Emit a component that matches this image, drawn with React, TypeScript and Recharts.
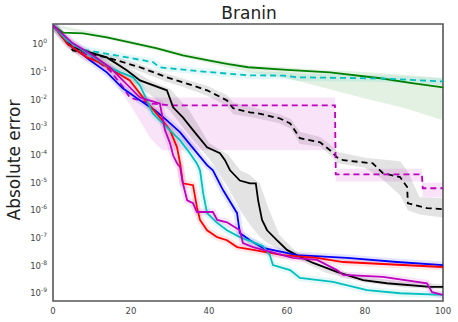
import { ComposedChart, Line, Area, XAxis, YAxis, ReferenceArea, Label } from "recharts";

// [iteration, absolute error]
const greenLine = [[0, 4.9], [2.6, 2.7], [7.7, 2.5], [13.8, 1.8], [19.7, 1.2], [26.7, 0.72], [33.3, 0.4], [39.5, 0.27], [44.6, 0.2], [50, 0.15], [60, 0.12], [71, 0.098], [84, 0.06], [92, 0.04], [100, 0.028]];
const cyanDashed = [[0, 4.9], [3, 1.5], [6.2, 0.72], [12, 0.51], [19, 0.34], [25.6, 0.23], [27.4, 0.148], [40, 0.1], [50.5, 0.076], [59, 0.075], [62.6, 0.065], [84, 0.059], [100, 0.046]];
const blackDashed = [[0, 4.9], [5.1, 0.61], [13.8, 0.34], [22.3, 0.15], [29.2, 0.065], [33.3, 0.043], [39.5, 0.022], [44.6, 0.0095], [46.2, 0.0049], [50.5, 0.0035], [52.3, 0.0033], [58.2, 0.0021], [60.8, 0.0014], [63.3, 0.00041], [68.5, 0.00029], [71, 0.00015], [72.8, 8.3e-5], [74.4, 6.5e-5], [82, 5e-5], [84.6, 2.2e-5], [89, 1.6e-5], [90.8, 7e-6], [91, 1.8e-6], [95.9, 1.2e-6], [100, 1.1e-6]];
const magentaDashed = [[0, 4.9], [5, 0.78], [10, 0.34], [14.6, 0.115], [18, 0.028], [19.7, 0.012], [24.9, 0.0074], [30, 0.0063], [72.3, 0.0063], [72.5, 2e-5], [94.6, 2e-5], [94.8, 6.3e-6], [100, 6.3e-6]];
const blackSolid = [[0, 4.9], [5.1, 0.78], [13.8, 0.34], [19, 0.115], [22.3, 0.05], [29.2, 0.022], [30.8, 0.0053], [33.3, 0.0023], [35.9, 0.0008], [39.5, 0.00019], [42.8, 0.000116], [44.1, 6.5e-5], [45.4, 2.8e-5], [47.9, 1.2e-5], [50.5, 9.5e-6], [52, 9.5e-6], [52.6, 2.3e-6], [53.6, 4.5e-7], [54.9, 1.9e-7], [57.4, 8.3e-8], [60, 3.7e-8], [63.3, 2.1e-8], [66.7, 1.25e-8], [72.8, 5.9e-9], [79.5, 3e-9], [85.6, 2.3e-9], [96.7, 1.7e-9], [100, 1.7e-9]];
const blueLine = [[0, 4.9], [4.4, 0.92], [6.2, 0.61], [9.5, 0.27], [13.8, 0.098], [17.9, 0.026], [22.3, 0.0095], [26.2, 0.0041], [29.2, 0.0018], [32.6, 0.00066], [35.9, 0.000177], [39.5, 4.3e-5], [41, 2.8e-5], [43.6, 5.4e-6], [47.2, 7.9e-7], [47.9, 1.5e-7], [50.5, 8.3e-8], [53.8, 4.4e-8], [62.6, 2.4e-8], [75.4, 1.9e-8], [88.2, 1.35e-8], [100, 1.05e-8]];
const redLine = [[0, 4.9], [3.6, 1.1], [8.7, 0.34], [12.1, 0.22], [15.4, 0.115], [19.7, 0.05], [23.1, 0.012], [27.4, 0.0023], [30, 0.0008], [31.8, 0.00019], [32.6, 5e-5], [33.3, 9.5e-6], [35.9, 8.1e-6], [36.9, 1.3e-6], [37.7, 4.5e-7], [39.5, 1.9e-7], [42.1, 1.07e-7], [44.6, 8.3e-8], [47.2, 4.7e-8], [51.3, 3.7e-8], [59, 2.4e-8], [67.7, 1.9e-8], [74.4, 1.35e-8], [100, 8.9e-9]];
const cyanLine = [[0, 4.9], [3.6, 1.4], [6.9, 0.72], [13.8, 0.17], [17.2, 0.098], [20.5, 0.065], [22.3, 0.033], [24.1, 0.0095], [25.6, 0.0032], [28.2, 0.0014], [30.8, 0.00061], [32.6, 0.00034], [35.1, 0.000116], [36.9, 5e-5], [37.7, 2.8e-5], [38.5, 4.2e-6], [39.5, 7.9e-7], [42.1, 3.5e-7], [44.6, 1.9e-7], [47.9, 1.07e-7], [51.3, 7.1e-8], [53.8, 5.1e-8], [55.6, 2.4e-8], [56.4, 1.05e-8], [60.8, 6.9e-9], [63.3, 3.6e-9], [71.8, 2.6e-9], [80.5, 1.3e-9], [89, 1.0e-9], [100, 8.7e-10]];
const magentaLine = [[0, 4.9], [5.1, 1.1], [10.3, 0.4], [14.6, 0.148], [17.9, 0.05], [22.3, 0.012], [25.6, 0.0087], [27.4, 0.0074], [28.7, 0.0008], [30, 0.00027], [30.8, 9.8e-5], [31.8, 5e-5], [32.6, 3.6e-5], [33.3, 9.5e-6], [34.4, 2.3e-6], [35.9, 1.8e-6], [36.9, 8.7e-7], [41, 8.7e-7], [42.1, 4.5e-7], [44.6, 3.7e-7], [47.9, 1.9e-7], [48.7, 6.6e-8], [51.3, 4.7e-8], [61.5, 1.9e-8], [67.7, 1.6e-8], [72.8, 6.9e-9], [74.4, 4.6e-9], [84.6, 3.9e-9], [95.9, 2.3e-9], [97.2, 1.1e-9], [100, 8.7e-10]];

// [iteration, low, high]
const greenBand = [[0, 4.3, 5.5], [10, 2.1, 2.8], [20, 1.0, 1.4], [30, 0.45, 0.65], [40, 0.21, 0.32], [50, 0.1, 0.18], [60, 0.06, 0.15], [70, 0.026, 0.12], [80, 0.011, 0.1], [90, 0.005, 0.08], [100, 0.0018, 0.06]];
const blackDashedBand = [[0, 4.5, 5.5], [5, 0.5, 0.75], [14, 0.26, 0.45], [22, 0.11, 0.2], [29, 0.045, 0.09], [33, 0.03, 0.06], [39.5, 0.014, 0.032], [44.6, 0.006, 0.015], [46.2, 0.003, 0.008], [52, 0.0022, 0.005], [58, 0.0014, 0.003], [61, 0.0009, 0.002], [63.3, 0.00025, 0.0007], [68.5, 0.0002, 0.00045], [71, 0.0001, 0.00025], [73, 5e-5, 0.00013], [80, 3.5e-5, 8e-5], [84, 1.5e-5, 7e-5], [89, 3.5e-6, 6e-5], [91, 1e-6, 2.5e-5], [94, 7e-7, 3e-6], [100, 5.5e-7, 2.8e-6]];
const magentaDashedBand = [[0, 4.5, 5.5], [10, 0.25, 0.45], [15, 0.07, 0.16], [18, 0.015, 0.04], [20, 0.006, 0.02], [22, 0.002, 0.015], [25, 0.0004, 0.012], [28, 0.00015, 0.012], [72.3, 0.00015, 0.012], [72.5, 1.1e-5, 3.2e-5], [94.6, 1.1e-5, 3.2e-5], [94.8, 3e-6, 1e-5], [100, 3e-6, 1e-5]];
const blackSolidBand = [[0, 4.5, 5.5], [5, 0.6, 1.0], [10, 0.25, 0.5], [15, 0.12, 0.28], [20, 0.05, 0.13], [25, 0.015, 0.05], [30, 0.004, 0.025], [35, 0.0005, 0.004], [40, 7.7e-5, 0.00027], [45, 6.3e-6, 0.0001], [48, 1e-6, 2.8e-5], [50.5, 3e-7, 1.9e-5], [53, 1.1e-7, 9.5e-6], [55, 6.6e-8, 1.5e-6], [58, 3.7e-8, 1.3e-7], [62, 2e-8, 3.5e-8], [66, 1e-8, 1.6e-8], [70, 5.5e-9, 9e-9], [80, 2.4e-9, 3.8e-9], [90, 1.6e-9, 2.6e-9], [100, 1.4e-9, 2.1e-9]];

const xTicks = [0, 20, 40, 60, 80, 100];
const yTicks = [1e-9, 1e-8, 1e-7, 1e-6, 1e-5, 1e-4, 1e-3, 1e-2, 1e-1, 1e0];
const Y_MIN = 5.25e-10;
const Y_MAX = 5.5;

const FONT = "DejaVu Sans";

const pts = (arr: number[][]) => arr.map(([x, v]) => ({ x, v }));
const band = (arr: number[][]) => arr.map(([x, lo, hi]) => ({ x, r: [lo, hi] }));

const YTick = ({ x, y, payload }: any) => {
  const e = Math.round(Math.log10(payload.value));
  return (
    <text x={x} y={y} dy={3} textAnchor="end" fontSize={8.5} fill="#444" fontFamily={FONT}>
      10<tspan dy={-4} fontSize={6}>{e}</tspan>
    </text>
  );
};

const Titles = () => (
  <g fontFamily={FONT}>
    <text x={249} y={19} textAnchor="middle" fontSize={17} fill="#222">Branin</text>
    <text x={20} y={160} transform="rotate(-90 20 160)" textAnchor="middle" fontSize={17} fill="#222">Absolute error</text>
  </g>
);

const series = [
  { data: greenLine, color: "#008000", dash: undefined, halo: false },
  { data: cyanDashed, color: "#00bfbf", dash: "6 4", halo: true },
  { data: blackDashed, color: "#000000", dash: "6 4", halo: false },
  { data: magentaDashed, color: "#bf00bf", dash: "6 4", halo: false },
  { data: blackSolid, color: "#000000", dash: undefined, halo: false },
  { data: blueLine, color: "#0000ff", dash: undefined, halo: true },
  { data: redLine, color: "#ff0000", dash: undefined, halo: true },
  { data: cyanLine, color: "#00bfbf", dash: undefined, halo: true },
  { data: magentaLine, color: "#bf00bf", dash: undefined, halo: true },
];

const bands = [
  { data: greenBand, color: "#008000" },
  { data: blackDashedBand, color: "#000000" },
  { data: magentaDashedBand, color: "#bf00bf" },
  { data: blackSolidBand, color: "#000000" },
];

export default function App() {
  return (
    <div style={{ position: "absolute", left: 0, top: 0, width: 458, height: 322, background: "#fff" }}>
      <ComposedChart width={458} height={322} margin={{ top: 24, right: 15, bottom: 0, left: 0 }}>
        <XAxis
          dataKey="x"
          type="number"
          domain={[0, 100]}
          ticks={xTicks}
          allowDataOverflow
          axisLine={false}
          tickLine={false}
          tickSize={5}
          height={21}
          tick={{ fontSize: 8.5, fill: "#444", fontFamily: FONT }}
        />
        <YAxis
          scale="log"
          domain={[Y_MIN, Y_MAX]}
          ticks={yTicks}
          allowDataOverflow
          axisLine={false}
          tickLine={false}
          tickSize={4}
          width={53}
          tick={<YTick />}
          label={<Label content={() => <Titles />} />}
        />
        {bands.map((b, i) => (
          <Area
            key={"b" + i}
            data={band(b.data)}
            dataKey="r"
            type="linear"
            stroke="none"
            fill={b.color}
            fillOpacity={0.11}
            isAnimationActive={false}
            dot={false}
            activeDot={false}
          />
        ))}
        {series.filter((s) => s.halo).map((s, i) => (
          <Line
            key={"h" + i}
            data={pts(s.data)}
            dataKey="v"
            type="linear"
            stroke={s.color}
            strokeOpacity={0.1}
            strokeWidth={7}
            dot={false}
            activeDot={false}
            isAnimationActive={false}
          />
        ))}
        {series.map((s, i) => (
          <Line
            key={"l" + i}
            data={pts(s.data)}
            dataKey="v"
            type="linear"
            stroke={s.color}
            strokeWidth={1.8}
            strokeDasharray={s.dash}
            dot={false}
            activeDot={false}
            isAnimationActive={false}
          />
        ))}
        <ReferenceArea x1={0} x2={100} y1={Y_MIN} y2={Y_MAX} fill="none" stroke="#555" strokeWidth={1.6} ifOverflow="visible" />
      </ComposedChart>
    </div>
  );
}
